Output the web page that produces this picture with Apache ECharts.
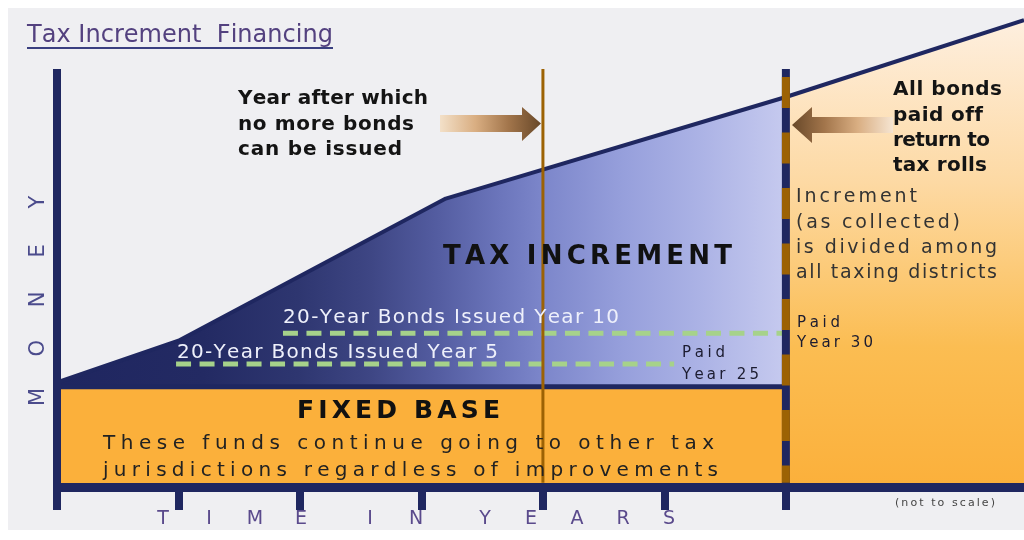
<!DOCTYPE html>
<html>
<head>
<meta charset="utf-8">
<script src="https://cdn.jsdelivr.net/npm/echarts@6/dist/echarts.min.js"></script>
<style>
html,body{margin:0;padding:0;background:#ffffff;}
#chart{width:1024px;height:540px;}
</style>
</head>
<body>
<div id="chart"></div>
<script>
// ---------- data (years on x, money units on y) ----------
const timeTicks = [0, 5, 10, 15, 20, 25, 30];
const curveYears = [0, 5, 16, 30];
const curveMoney = [25, 35, 69, 93.3];
const afterYears = [30, 39.8];
const afterMoney = [93.3, 111.7];
const baseYears = [0, 30];
const baseMoney = [24, 24];
const bond10Years = [9.3, 30];
const bond10Money = [36.8, 36.8];
const bond5Years = [4.9, 25.4];
const bond5Money = [29.4, 29.4];
const noMoreBondsYear = 20;
const paidOffYear = 30;
const yearMax = 39.8;
const moneyMax = 100;

const title = 'Tax Increment  Financing';
const bondLabels = ['20-Year Bonds Issued Year 10', '20-Year Bonds Issued Year 5'];
const leftNote = ['Year after which', 'no more bonds', 'can be issued'];
const rightNote = ['All bonds', 'paid off', 'return to', 'tax rolls'];
const incrementNote = ['Increment', '(as collected)', 'is divided among', 'all taxing districts'];
const paid30 = ['Paid', 'Year 30'];
const paid25 = ['Paid', 'Year 25'];
const baseNote = ['These funds continue going to other tax', 'jurisdictions regardless of improvements'];
const yName = 'MONEY';
const xName = 'TIME IN YEARS';

const zip = (a, b) => a.map((v, i) => [v, b[i]]);

// ---------- styles ----------
const NAVY = '#1f2760';
const BROWN = '#9c6204';
const ORANGE = '#fbb03b';
const GREEN = '#a6d28a';
const FAM = '"DejaVu Sans", sans-serif';

// ---------- text helper (letter-spaced text fitted to a width) ----------
const mctx = document.createElement('canvas').getContext('2d');
function textRow(str, x, cy, w, size, weight, color) {
  const font = weight + ' ' + size + 'px ' + FAM;
  mctx.font = font;
  const chars = Array.from(str);
  const widths = chars.map(c => mctx.measureText(c).width);
  const natural = widths.reduce((a, b) => a + b, 0);
  const gap = (w && chars.length > 1) ? (w - natural) / (chars.length - 1) : 0;
  const els = [];
  let cx = x;
  chars.forEach((c, i) => {
    if (c !== ' ') {
      els.push({
        type: 'text', x: cx, y: cy, z: 100, silent: true,
        style: { text: c, font: font, fill: color, textAlign: 'left', align: 'left',
                 textVerticalAlign: 'middle', verticalAlign: 'middle' }
      });
    }
    cx += widths[i] + gap;
  });
  return els;
}
function spacedLetters(str, x0, y0, pitch, dir, size, color, rot) {
  const els = [];
  let p = 0;
  Array.from(str).forEach(c => {
    if (c === ' ') { p += 0.5; return; }
    els.push({
      type: 'text', x: x0 + (dir === 'x' ? p * pitch : 0), y: y0 - (dir === 'y' ? p * pitch : 0),
      rotation: rot, z: 100, silent: true,
      style: { text: c, font: 'normal ' + size + 'px ' + FAM, fill: color,
               textAlign: 'center', align: 'center', textVerticalAlign: 'middle', verticalAlign: 'middle' }
    });
    p += 1;
  });
  return els;
}

const G = echarts.graphic;
const incGrad = new G.LinearGradient(0, 0, 1, 0, [
  { offset: 0, color: '#1f2660' }, { offset: 0.2, color: '#232a63' },
  { offset: 0.33, color: '#2e3670' }, { offset: 0.43, color: '#3e4684' },
  { offset: 0.52, color: '#535ca0' }, { offset: 0.61, color: '#6c76bc' },
  { offset: 0.67, color: '#7d87cb' }, { offset: 0.78, color: '#97a0dc' },
  { offset: 0.88, color: '#abb2e5' }, { offset: 1, color: '#c6caef' }
]);
const afterGrad = new G.LinearGradient(0, 0, 0, 1, [
  { offset: 0, color: '#feefdf' }, { offset: 0.35, color: '#fdd9a3' },
  { offset: 0.7, color: '#fbbd52' }, { offset: 1, color: '#fbb03b' }
]);
const arrowR = new G.LinearGradient(0, 0, 1, 0, [
  { offset: 0, color: '#f3e0c8' }, { offset: 0.35, color: '#d9ae82' },
  { offset: 0.68, color: '#a2754b' }, { offset: 1, color: '#684829' }
]);
const arrowL = new G.LinearGradient(0, 0, 1, 0, [
  { offset: 0, color: '#684829' }, { offset: 0.32, color: '#a2754b' },
  { offset: 0.65, color: '#d9ae82' }, { offset: 1, color: '#f6e5d2' }
]);

let graphics = [
  { type: 'rect', z: -10, silent: true, shape: { x: 8, y: 8, width: 1016, height: 522 }, style: { fill: '#efeff2' } },
  { type: 'line', z: 100, silent: true, shape: { x1: 27, y1: 48, x2: 333, y2: 48 }, style: { stroke: '#3a3f80', lineWidth: 2 } },
  { type: 'polygon', z: 90, silent: true, shape: { points: [[440,115],[522,115],[522,107],[541,123.5],[522,141],[522,132],[440,132]] }, style: { fill: arrowR } },
  { type: 'polygon', z: 90, silent: true, shape: { points: [[792,125],[812,107],[812,117],[893,117],[893,133],[812,133],[812,143]] }, style: { fill: arrowL } }
];
graphics = graphics.concat(
  textRow(title, 27, 36, 306, 24, 'normal', '#53417f'),
  textRow(leftNote[0], 238, 99, 190, 20, 'bold', '#141414'),
  textRow(leftNote[1], 238, 125, 176, 20, 'bold', '#141414'),
  textRow(leftNote[2], 238, 150, 164, 20, 'bold', '#141414'),
  textRow(rightNote[0], 893, 90, 109, 20, 'bold', '#141414'),
  textRow(rightNote[1], 893, 116, 90, 20, 'bold', '#141414'),
  textRow(rightNote[2], 893, 141, 97, 20, 'bold', '#141414'),
  textRow(rightNote[3], 893, 166, 94, 20, 'bold', '#141414'),
  textRow(incrementNote[0], 796, 197, 121, 19, 'normal', '#333333'),
  textRow(incrementNote[1], 796, 223, 164, 19, 'normal', '#333333'),
  textRow(incrementNote[2], 796, 248, 201, 19, 'normal', '#333333'),
  textRow(incrementNote[3], 796, 273, 201, 19, 'normal', '#333333'),
  textRow(paid30[0], 797, 323, 43, 15, 'normal', '#1c1c30'),
  textRow(paid30[1], 797, 343, 76, 15, 'normal', '#1c1c30'),
  textRow(paid25[0], 682, 353, 43, 15, 'normal', '#1c1c30'),
  textRow(paid25[1], 682, 375, 77, 15, 'normal', '#1c1c30'),
  textRow('TAX INCREMENT', 443, 257, 289, 26, 'bold', '#111111'),
  textRow(bondLabels[0], 283, 318, 336, 20, 'normal', '#eef0fb'),
  textRow(bondLabels[1], 177, 353, 321, 20, 'normal', '#eef0fb'),
  textRow('FIXED BASE', 297, 411, 203, 25, 'bold', '#111111'),
  textRow(baseNote[0], 103, 444, 611, 20, 'normal', '#222222'),
  textRow(baseNote[1], 103, 471, 615, 20, 'normal', '#222222'),
  textRow('(not to scale)', 895, 503, 100, 11, 'normal', '#444444'),
  spacedLetters(yName, 39, 397, 48.75, 'y', 21, '#4b4b8c', Math.PI / 2),
  spacedLetters(xName, 163, 519, 46, 'x', 19, '#5a4a8c', 0)
);

const chart = echarts.init(document.getElementById('chart'), null, { renderer: 'canvas' });
chart.setOption({
  backgroundColor: '#ffffff',
  animation: false,
  grid: { left: 57, right: 0, top: 69, bottom: 53, containLabel: false },
  xAxis: {
    type: 'value', min: 0, max: yearMax, interval: 5, z: 5,
    axisLine: { show: true, lineStyle: { color: NAVY, width: 9, cap: 'butt' } },
    axisTick: { show: true, customValues: timeTicks, length: 23, lineStyle: { color: NAVY, width: 8, cap: 'butt' } },
    axisLabel: { show: false }, splitLine: { show: false }
  },
  yAxis: {
    type: 'value', min: 0, max: moneyMax, interval: 50, z: 5,
    axisLine: { show: true, lineStyle: { color: NAVY, width: 8, cap: 'butt' } },
    axisTick: { show: false }, axisLabel: { show: false }, splitLine: { show: false }
  },
  graphic: graphics,
  series: [
    { type: 'line', z: 2, data: zip(curveYears, curveMoney), symbol: 'none', silent: true,
      lineStyle: { color: NAVY, width: 4 }, areaStyle: { color: incGrad, opacity: 1 } },
    { type: 'line', z: 2, clip: false, data: zip(afterYears, afterMoney), symbol: 'none', silent: true,
      lineStyle: { color: NAVY, width: 4 }, areaStyle: { color: afterGrad, opacity: 1 } },
    { type: 'line', z: 3, data: zip(baseYears, baseMoney), symbol: 'none', silent: true,
      lineStyle: { color: NAVY, width: 5 }, areaStyle: { color: ORANGE, opacity: 1 } },
    { type: 'line', z: 4, data: zip(bond10Years, bond10Money), symbol: 'none', silent: true,
      lineStyle: { color: GREEN, width: 5, type: [15, 8.5] } },
    { type: 'line', z: 4, data: zip(bond5Years, bond5Money), symbol: 'none', silent: true,
      lineStyle: { color: GREEN, width: 5, type: [15, 8.5] } },
    { type: 'line', z: 4, data: [[noMoreBondsYear, 1], [noMoreBondsYear, moneyMax]], symbol: 'none', silent: true,
      lineStyle: { color: BROWN, width: 3, cap: 'butt' } },
    { type: 'line', z: 4, data: [[paidOffYear, 0], [paidOffYear, moneyMax]], symbol: 'none', silent: true,
      lineStyle: { color: NAVY, width: 8, cap: 'butt' } },
    { type: 'line', z: 4, data: [[paidOffYear, moneyMax], [paidOffYear, 1]], symbol: 'none', silent: true,
      lineStyle: { color: BROWN, width: 8, cap: 'butt', type: [31, 24.5], dashOffset: -8 } }
  ]
});
</script>
</body>
</html>
